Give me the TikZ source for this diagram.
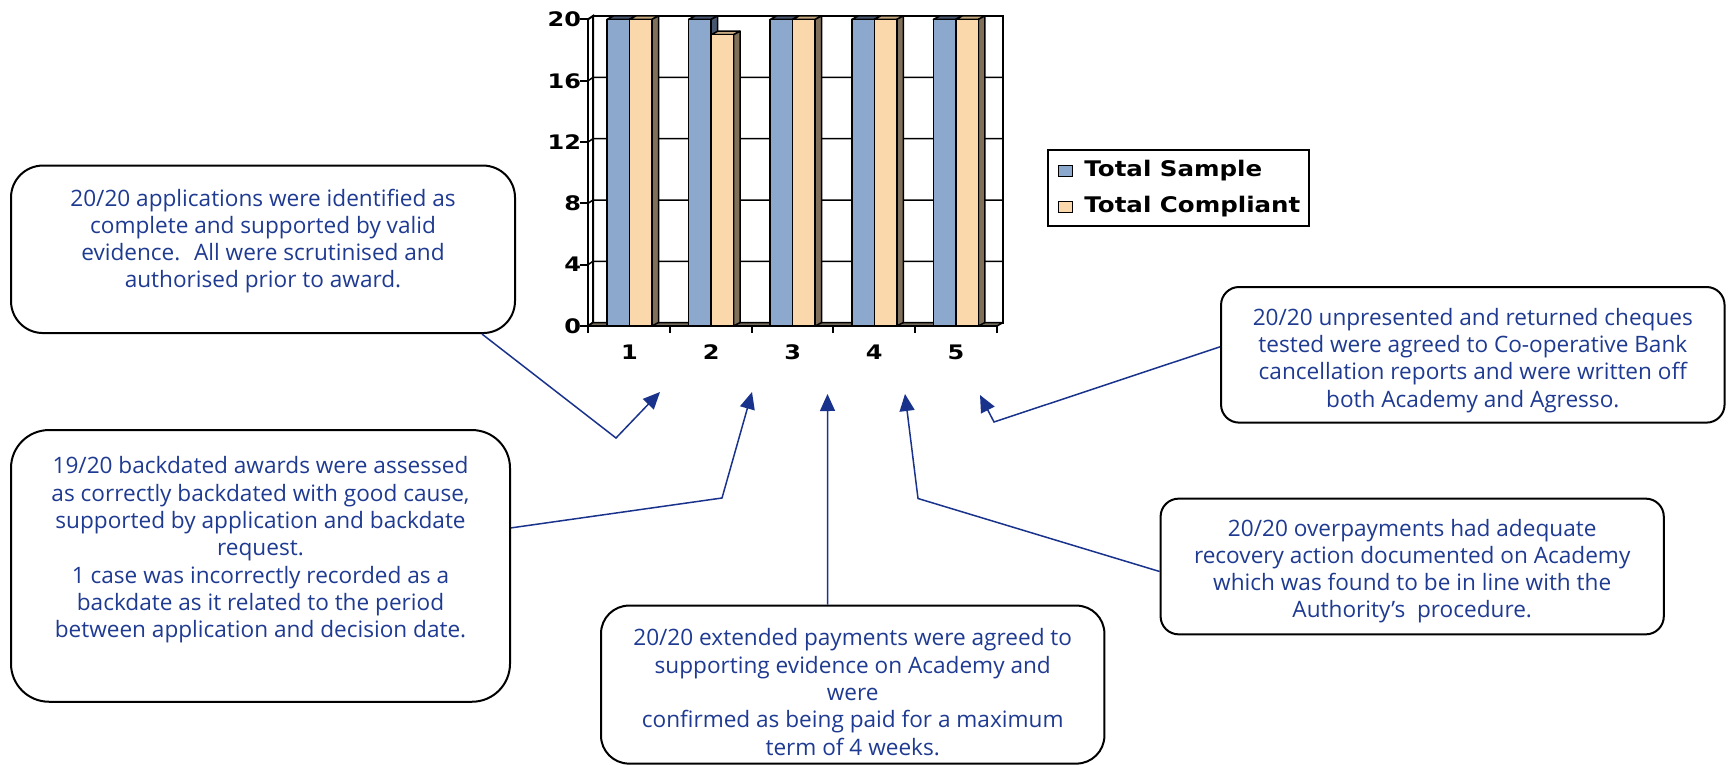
\documentclass[tikz,border=0pt]{standalone}
\usepackage{fontspec}
\setmainfont{Open Sans}
\newfontfamily\chartfont{DejaVu Sans}[FakeStretch=1.2, BoldFeatures={FakeStretch=1.2}]
\newfontfamily\keyfont{DejaVu Sans}[FakeStretch=1.14, BoldFeatures={FakeStretch=1.14}]
\usetikzlibrary{positioning,arrows.meta}
\definecolor{notecol}{RGB}{30,58,145}
\definecolor{arrowcol}{RGB}{25,50,140}
\definecolor{sampleface}{RGB}{141,168,205}
\definecolor{sampleside}{RGB}{72,86,112}
\definecolor{compface}{RGB}{250,216,172}
\definecolor{compside}{RGB}{128,112,90}
\definecolor{comptop}{RGB}{200,170,128}
\definecolor{floorfill}{RGB}{118,108,92}
\begin{document}
\begin{tikzpicture}[x=1pt,y=-1pt,
    notebox/.style={draw=black, line width=2pt, rounded corners=#1, inner sep=0pt},
    notebox/.default=16pt,
    notetext/.style={text=notecol, align=center, inner sep=0pt, font=\fontsize{22.6pt}{27.3pt}\selectfont},
    pointer/.style={draw=arrowcol, line width=1.5pt, -{Triangle[length=17pt,width=15pt]}},
    barline/.style={draw=black, line width=1.5pt, line join=round},
    axisline/.style={draw=black, line width=2pt},
    chartlabel/.style={font=\chartfont\bfseries\fontsize{20pt}{20pt}\selectfont, inner sep=0pt},
    keylabel/.style={font=\keyfont\bfseries\fontsize{21.5pt}{21.5pt}\selectfont, inner sep=0pt},
    swatch/.style={draw=black, line width=1.5pt, minimum width=14pt, minimum height=11pt, inner sep=0pt}]
        \useasboundingbox (0,0) rectangle (1730,765);

        % chart walls and grid
        \filldraw[axisline, fill=white] (593,16) rectangle (1003,322.6);
        \draw[axisline] (588,19.3) -- (593,16) -- (593,322.6) -- (588,326);
        \foreach \k in {1,...,4}
            \draw[black, line width=1.5pt] (588,{326-61.3*\k}) -- ++(5,-3.4) -- (1003,{322.6-61.3*\k});
        \filldraw[barline, fill=floorfill] (588,326) -- (593,322.6) -- (1003,322.6) -- (997,326) -- cycle;

        % bars
        \foreach \i/\s/\c in {0/20/20,1/20/19,2/20/20,3/20/20,4/20/20} {
            \pgfmathsetmacro\cx{629.5+81.6*\i}
            \pgfmathsetmacro\ts{326-15.33*\s}
            \pgfmathsetmacro\tc{326-15.33*\c}
            \filldraw[barline, fill=sampleside] (\cx-22.5,\ts) -- ++(6.5,-3.5) -- (\cx+6.5,\ts-3.5) -- (\cx,\ts) -- cycle;
            \filldraw[barline, fill=sampleside] (\cx,\ts) -- ++(6.5,-3.5) -- (\cx+6.5,322.5) -- (\cx,326) -- cycle;
            \filldraw[barline, fill=sampleface] (\cx-22.5,\ts) rectangle (\cx,326);
            \filldraw[barline, fill=comptop] (\cx,\tc) -- ++(6.5,-3.5) -- (\cx+29,\tc-3.5) -- (\cx+22.5,\tc) -- cycle;
            \filldraw[barline, fill=compside] (\cx+22.5,\tc) -- ++(6.5,-3.5) -- (\cx+29,322.5) -- (\cx+22.5,326) -- cycle;
            \filldraw[barline, fill=compface] (\cx,\tc) rectangle (\cx+22.5,326);
            \node[chartlabel] (cat\i) at (\cx,352) {\the\numexpr\i+1\relax};
        }

        % axes
        \draw[axisline] (588,19.3) -- (588,326) -- (997,326);
        \foreach \k/\v in {0/0,1/4,2/8,3/12,4/16,5/20}
            \draw[axisline] (580,{326-61.3*\k}) -- (588,{326-61.3*\k}) node[chartlabel, anchor=east, xshift=-6pt] {\v};
        \foreach \k in {0,...,5}
            \draw[axisline] ({588+81.8*\k},326) -- ++(0,7);

        % legend
        \node[draw=black, line width=1.5pt, minimum width=261pt, minimum height=76pt] (legend) at (1178.5,188) {};
        \node[swatch, fill=sampleface] (sampleKey) at (1065.5,171) {};
        \node[swatch, fill=compface] (compKey) at (1065.5,207) {};
        \node[keylabel, right=11pt of sampleKey] (sampleLabel) {Total Sample};
        \node[keylabel, right=11pt of compKey] (compLabel) {Total Compliant};

        % notes
        \node[notebox=32pt, minimum width=504pt, minimum height=167.5pt] (appBox) at (263,249.3) {};
        \node[notetext, below=24pt of appBox.north] (appText) {20/20 applications were identified as\\complete and supported by valid\\evidence.~ All were scrutinised and\\authorised prior to award.};

        \node[notebox=38pt, minimum width=499pt, minimum height=271.7pt] (backBox) at (260.5,565.9) {};
        \node[notetext, below=27.5pt of backBox.north] (backText) {19/20 backdated awards were assessed\\as correctly backdated with good cause,\\supported by application and backdate\\request.\\1 case was incorrectly recorded as a\\backdate as it related to the period\\between application and decision date.};

        \node[notebox=28pt, minimum width=503.4pt, minimum height=158pt] (extBox) at (852.7,684.6) {};
        \node[notetext, below=24pt of extBox.north] (extText) {20/20 extended payments were agreed to\\supporting evidence on Academy and\\were\\confirmed as being paid for a maximum\\term of 4 weeks.};

        \node[notebox=18pt, minimum width=503.5pt, minimum height=135.6pt] (chqBox) at (1472.8,354.8) {};
        \node[notetext, below=22pt of chqBox.north] (chqText) {20/20 unpresented and returned cheques\\tested were agreed to Co-operative Bank\\cancellation reports and were written off\\both Academy and Agresso.};

        \node[notebox=18pt, minimum width=503.2pt, minimum height=135.7pt] (ovpBox) at (1412.2,566.5) {};
        \node[notetext, below=21pt of ovpBox.north] (ovpText) {20/20 overpayments had adequate\\recovery action documented on Academy\\which was found to be in line with the\\Authority’s~ procedure.};

        % pointers
        \coordinate (tip1) at (660,392);
        \coordinate (tip2) at (752,392);
        \coordinate (tip3) at (827.5,394);
        \coordinate (tip4) at (905,394);
        \coordinate (tip5) at (980,395);
        \coordinate (bend1) at (616,438);
        \coordinate (bend2) at (722,498);
        \coordinate (bend4) at (918,498.5);
        \coordinate (bend5) at (994,422);
        \draw[pointer] ([xshift=219pt]appBox.south) -- (bend1) -- (tip1);
        \draw[pointer] ([yshift=38pt]backBox.east) -- (bend2) -- (tip2);
        \draw[pointer] ([xshift=-25pt]extBox.north) -- (tip3);
        \draw[pointer] ([yshift=-5pt]ovpBox.west) -- (bend4) -- (tip4);
        \draw[pointer] ([yshift=8pt]chqBox.west) -- (bend5) -- (tip5);
    \end{tikzpicture}
\end{document}
